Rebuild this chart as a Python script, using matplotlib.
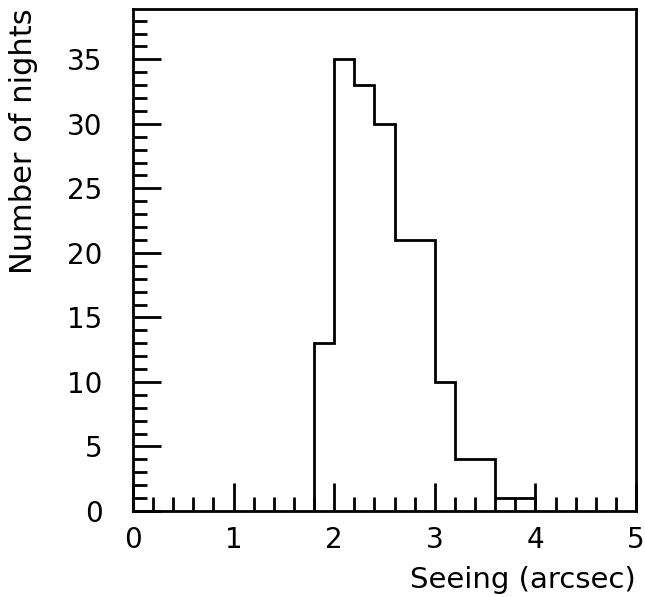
import numpy as np
import matplotlib
matplotlib.use("Agg")
import matplotlib.pyplot as plt
from matplotlib.ticker import MultipleLocator

# histogram of seeing, bins 0.2 arcsec wide
bin_edges = [1.8, 2.0, 2.2, 2.4, 2.6, 2.8, 3.0, 3.2, 3.4, 3.6, 3.8, 4.0]
nights = [13, 35, 33, 30, 21, 21, 10, 4, 4, 1, 1]

plt.rcParams["font.family"] = ["DejaVu Sans"]

fig = plt.figure(figsize=(6.45, 5.97), dpi=100)
ax = fig.add_axes([133 / 645, 1 - 511 / 597, (636 - 133) / 645, (511 - 9) / 597])

ax.stairs(nights, bin_edges, color="black", linewidth=2, baseline=0)

ax.set_xlim(0, 5)
ax.set_ylim(0, 38.9)

ax.xaxis.set_major_locator(MultipleLocator(1))
ax.xaxis.set_minor_locator(MultipleLocator(0.2))
ax.yaxis.set_major_locator(MultipleLocator(5))
ax.yaxis.set_minor_locator(MultipleLocator(1))

ax.tick_params(which="both", direction="in", top=False, right=False, width=2, color="black")
ax.tick_params(which="major", length=20)
ax.tick_params(which="minor", length=10)
ax.tick_params(axis="x", which="major", labelsize=20, pad=11)
ax.tick_params(axis="y", which="major", labelsize=20, pad=22)

for s in ax.spines.values():
    s.set_linewidth(2)

fig.text(636 / 645, 1 - 580 / 597, "Seeing (arcsec)", ha="right", va="center", fontsize=21)
fig.text(24 / 645, 1 - 8 / 597, "Number of nights", ha="center", va="top", rotation=90, fontsize=22)

fig.savefig("out.png", dpi=100)
